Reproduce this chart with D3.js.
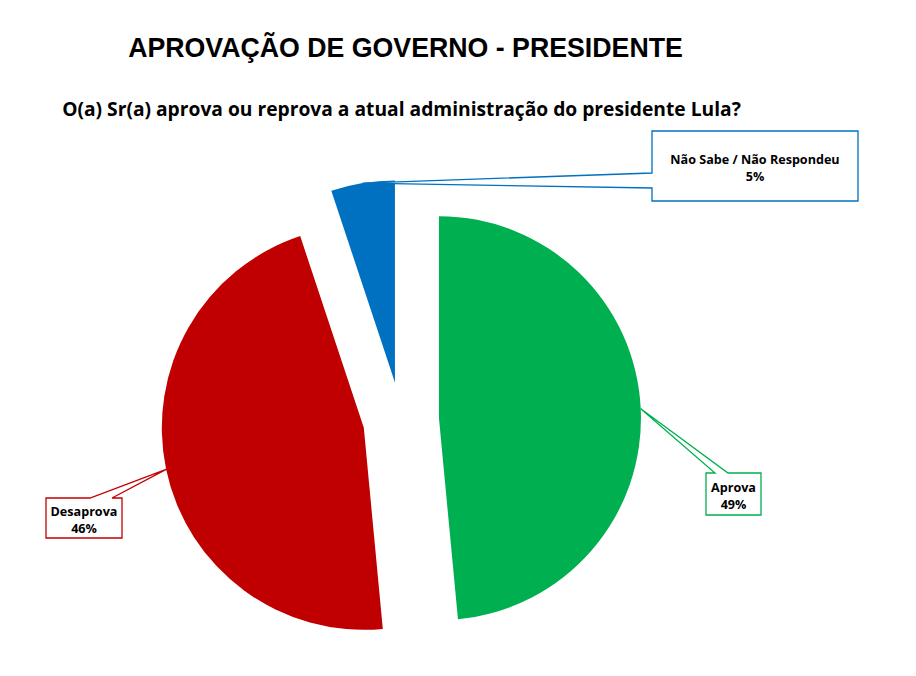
<!DOCTYPE html>
<html><head><meta charset="utf-8">
<script src="https://cdn.jsdelivr.net/npm/d3@7/dist/d3.min.js"></script>
<style>body{margin:0;background:#fff}svg{display:block}</style>
</head><body>
<svg id="chart" width="916" height="676"></svg>
<script>
// ---- data ----
const categories = ["Aprova", "Desaprova", "Não Sabe / Não Respondeu"];
const values = [48.5, 46.4, 5.1];
const colors = ["#00B050", "#C00000", "#0070C0"];
const title = "APROVAÇÃO DE GOVERNO - PRESIDENTE";
const subtitle = "O(a) Sr(a) aprova ou reprova a atual administração do presidente Lula?";

// ---- layout ----
const cx = 401, cy = 420, R = 202, explode = 38;
// callout boxes
const boxes = [
  {x:706, y:473, w:55, h:42, side:"top", a:[715, 728]},
  {x:46, y:498, w:76, h:40, side:"top", a:[90, 112]},
  {x:652, y:131, w:206, h:70, side:"left", a:[173, 188]}
];

const svg = d3.select("#chart");

function fitText(sel, width) {
  const fs = parseFloat(sel.attr("font-size"));
  const w = sel.node().getComputedTextLength();
  sel.attr("font-size", fs * width / w);
}

const t = svg.append("text").attr("x", 405.5).attr("y", 57).attr("text-anchor", "middle")
  .attr("font-family", "Liberation Sans, Arial, sans-serif").attr("font-weight", "bold")
  .attr("font-size", 26).attr("fill", "#000").text(title);
fitText(t, 555);

const st = svg.append("text").attr("x", 401.5).attr("y", 116).attr("text-anchor", "middle")
  .attr("font-family", "Open Sans, sans-serif").attr("font-weight", "bold")
  .attr("font-size", 16).attr("fill", "#000").text(subtitle);
fitText(st, 679);

const pie = d3.pie().sort(null).value(d => d)(values);
const arc = d3.arc().innerRadius(0).outerRadius(R);

const g = svg.append("g");
pie.forEach((p, i) => {
  const mid = (p.startAngle + p.endAngle) / 2;
  const ox = cx + explode * Math.sin(mid), oy = cy - explode * Math.cos(mid);
  g.append("path").attr("transform", `translate(${ox},${oy})`)
    .attr("d", arc(p)).attr("fill", colors[i]);
  p.ox = ox; p.oy = oy; p.mid = mid;
});

// callouts
pie.forEach((p, i) => {
  const b = boxes[i];
  const tx = p.ox + R * Math.sin(p.mid), ty = p.oy - R * Math.cos(p.mid);
  let d;
  if (b.side === "top") {
    d = `M${b.x},${b.y} L${b.a[0]},${b.y} L${tx},${ty} L${b.a[1]},${b.y} L${b.x + b.w},${b.y} L${b.x + b.w},${b.y + b.h} L${b.x},${b.y + b.h} Z`;
  } else {
    d = `M${b.x},${b.y} L${b.x + b.w},${b.y} L${b.x + b.w},${b.y + b.h} L${b.x},${b.y + b.h} L${b.x},${b.a[1]} L${tx},${ty} L${b.x},${b.a[0]} Z`;
  }
  svg.append("path").attr("d", d).attr("fill", "#fff").attr("stroke", colors[i])
    .attr("stroke-width", 1.3).attr("stroke-linejoin", "miter");
  const lbl = svg.append("text").attr("text-anchor", "middle")
    .attr("font-family", "Open Sans, sans-serif").attr("font-weight", "bold")
    .attr("font-size", 12.6).attr("fill", "#000");
  const mx = b.x + b.w / 2, my = b.y + b.h / 2;
  lbl.append("tspan").attr("x", mx).attr("y", my - 2).text(categories[i]);
  lbl.append("tspan").attr("x", mx).attr("y", my + 15).text(Math.round(values[i]) + "%");
});
</script>
</body></html>
